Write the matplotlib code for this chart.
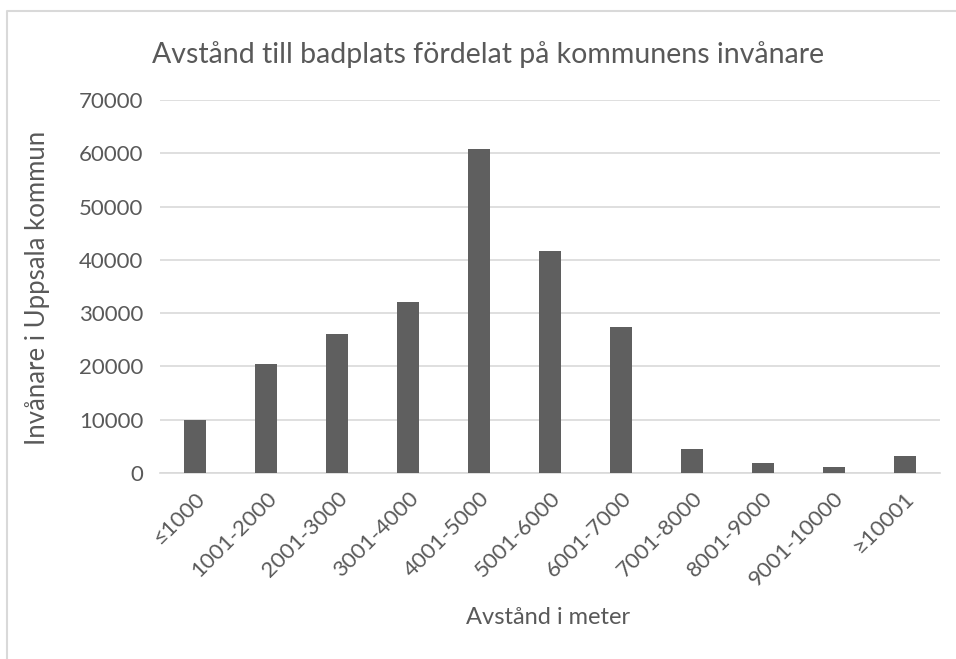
import matplotlib.pyplot as plt
from matplotlib.lines import Line2D

# Data
categories = ["≤1000", "1001-2000", "2001-3000", "3001-4000", "4001-5000",
              "5001-6000", "6001-7000", "7001-8000", "8001-9000", "9001-10000", "≥10001"]
invanare = [10000, 20400, 26100, 32100, 60800, 41700, 27400, 4500, 1900, 1100, 3100]
yticks = [0, 10000, 20000, 30000, 40000, 50000, 60000, 70000]

text_color = "#595959"
plt.rcParams['font.family'] = ['Lato', 'DejaVu Sans']

fig = plt.figure(figsize=(9.56, 6.59), dpi=100)
W, H = 956, 659
ax = fig.add_axes([160 / W, 1 - 473 / H, 780 / W, 373 / H])

x = range(len(categories))
ax.bar(x, invanare, width=0.31, color="#5f5f5f", zorder=3)

ax.set_xlim(-0.5, len(categories) - 0.5)
ax.set_ylim(0, 70000)
ax.set_yticks(yticks)
ax.set_yticklabels([str(v) for v in yticks], fontsize=16, color=text_color)
ax.set_xticks(list(x))
ax.set_xticklabels(categories, rotation=45, ha="right", rotation_mode="anchor",
                   fontsize=16, color=text_color)
ax.tick_params(axis="both", length=0)
ax.tick_params(axis="y", pad=12)
ax.tick_params(axis="x", pad=11)

ax.grid(axis="y", color="#d9d9d9", linewidth=1.2, zorder=0)
for side in ["top", "right", "left"]:
    ax.spines[side].set_visible(False)
ax.spines["bottom"].set_color("#d9d9d9")
ax.spines["bottom"].set_linewidth(1.2)

fig.text(488 / W, 1 - 55 / H, "Avstånd till badplats fördelat på kommunens invånare",
         ha="center", va="center", fontsize=20.5, color=text_color)
fig.text(548 / W, 1 - 618 / H, "Avstånd i meter", ha="center", va="center",
         fontsize=17, color=text_color)
fig.text(38 / W, 1 - 288 / H, "Invånare i Uppsala kommun", ha="center", va="center",
         rotation=90, fontsize=18.5, color=text_color)

# light chart border (top and left only)
fig.lines.append(Line2D([6.5 / W, 6.5 / W, 1], [0, 1 - 10.5 / H, 1 - 10.5 / H],
                        transform=fig.transFigure, color="#d9d9d9", linewidth=1.5))

fig.savefig("out.png", dpi=100)
